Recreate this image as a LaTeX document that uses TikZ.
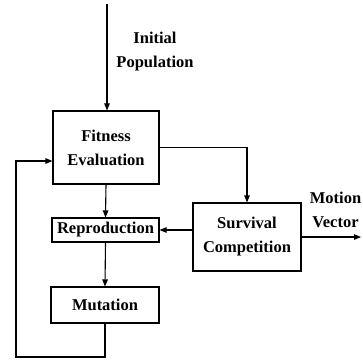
\documentclass[tikz,border=0pt]{standalone}
\usepackage{fontspec}
\setmainfont{Liberation Serif}
\usetikzlibrary{arrows.meta}

\begin{document}
\begin{tikzpicture}[
    x=1pt, y=-1pt,
  stagebox/.style={rectangle, draw, line width=1.1pt, inner sep=0pt, align=center, text centered,
    font=\fontsize{16.5}{24}\selectfont\bfseries},
  labeltext/.style={align=center, font=\fontsize{16.5}{24}\selectfont\bfseries},
  >={Triangle[length=7pt,width=5.5pt]}
]
\useasboundingbox (0,0) rectangle (363,360);

% Stage nodes
\node[stagebox, minimum width=106pt, minimum height=73pt] (fitness) at (106, 147.5) {Fitness\\Evaluation};
\node[stagebox, minimum width=107pt, minimum height=24pt] (repro) at (105.5, 230) {Reproduction};
\node[stagebox, minimum width=108pt, minimum height=36pt] (mutation) at (105, 305) {Mutation};
\node[stagebox, minimum width=108pt, minimum height=68pt] (survival) at (247, 237) {Survival\\Competition};

% Labels
\node[labeltext] (initlabel) at (155, 52) {Initial\\Population};
\node[labeltext] (motionlabel) at (335.5, 210) {Motion\\Vector};

% Free ends
\coordinate (start) at (107, 4);
\coordinate (out) at (361, 237);
\coordinate (loop) at (16, 357);

% Arrows
\draw[->, line width=1.1pt] (start) -- (start |- fitness.north);
\draw[->, line width=1.1pt] (fitness.east) -| (survival.north);
\draw[->, line width=1.1pt] (fitness.south) -- (repro.north);
\draw[->, line width=1.1pt] (survival.west |- repro.east) -- (repro.east);
\draw[->, line width=1.1pt] (repro.south) -- (mutation.north);
\draw[->, line width=1.1pt] (mutation.south) |- (loop) |- (fitness.west |- 0,161);
\draw[->, line width=1.1pt] (survival.east) -- (out);

\end{tikzpicture}
\end{document}
